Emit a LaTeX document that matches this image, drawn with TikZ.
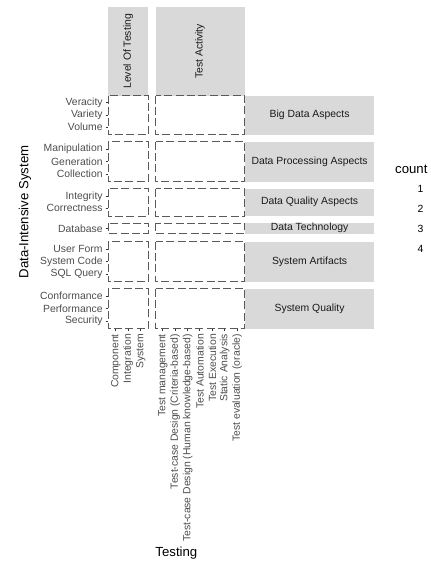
\documentclass[tikz,border=0pt]{standalone}
\usepackage{fontspec}
\setmainfont{Liberation Sans}
\definecolor{stripfill}{HTML}{D9D9D9}
\definecolor{axistext}{HTML}{4D4D4D}
\definecolor{tickcol}{HTML}{333333}
\definecolor{striptextcol}{HTML}{1A1A1A}
\definecolor{bordercol}{HTML}{5A5A5A}
\tikzset{
  stripbox/.style={fill=stripfill, draw=none},
  panelbox/.style={draw=bordercol, line width=1pt, dash pattern=on 8pt off 3.4pt},
  striptext/.style={font=\fontsize{10.4}{12}\selectfont, text=striptextcol, inner sep=0pt},
  yticklab/.style={font=\fontsize{10.4}{12}\selectfont, text=axistext, anchor=east, inner sep=0pt},
  xticklab/.style={font=\fontsize{10.4}{12}\selectfont, text=axistext, anchor=east, rotate=90, inner sep=0pt},
  tickline/.style={draw=tickcol, line width=1pt},
  axtitle/.style={font=\fontsize{13.2}{15}\selectfont, text=black, inner sep=0pt},
  legtext/.style={font=\fontsize{10.4}{12}\selectfont, text=black, anchor=west, inner sep=0pt}
}
\begin{document}
\begin{tikzpicture}[x=1pt,y=-1pt]
\useasboundingbox (0,0) rectangle (431,568);
% top strips
\fill[stripbox] (108.3,7.3) rectangle (148.3,95.5);
\fill[stripbox] (155.5,7.3) rectangle (244.5,95.5);
\node[striptext, rotate=90] (sLevel) at (128.3,51.4) {Level Of Testing};
\node[striptext, rotate=90] (sAct) at (200,51.4) {Test Activity};
% rows: panels and right strips
\foreach \t/\b/\lab [count=\i] in {95.5/134.5/Big Data Aspects, 141.5/181.5/Data Processing Aspects, 188.5/216/Data Quality Aspects, 223/233.5/Data Technology, 241.5/281.5/System Artifacts, 288.5/328.5/System Quality}{
  \fill[stripbox] (245.3,\t) rectangle (374,\b);
  \node[striptext] (r\i) at (309.6,{(\t+\b)/2}) {\lab};
  \draw[panelbox] (108.3,\t) rectangle (148.3,\b);
  \draw[panelbox] (155.5,\t) rectangle (244.5,\b);
}
% y ticks
\foreach \y/\txt [count=\i] in {102.8/Veracity, 115/Variety, 127.2/Volume, 149/Manipulation, 161.5/Generation, 174/Collection, 196.5/Integrity, 208.3/Correctness, 228.3/Database, 249.3/User Form, 261.7/System Code, 274/SQL Query, 296/Conformance, 308.5/Performance, 321/Security}{
  \draw[tickline] (105.5,\y) -- (108.3,\y);
  \node[yticklab] (yl\i) at (102.8,\y) {\txt};
}
% x ticks left column
\foreach \x/\txt [count=\i] in {115.8/Component, 128.3/Integration, 140.8/System}{
  \draw[tickline] (\x,328.5) -- (\x,331.3);
  \node[xticklab] (xa\i) at (\x,334) {\txt};
}
% x ticks right column
\foreach \txt [count=\i] in {Test management, Test-case Design (Criteria-based), Test-case Design (Human knowledge-based), Test Automation, Test Execution, Static Analysis, Test evaluation (oracle)}{
  \pgfmathsetmacro{\xx}{155.5+12.36*(\i-0.4)}
  \draw[tickline] (\xx,328.5) -- (\xx,331.3);
  \node[xticklab] (xb\i) at (\xx,334) {\txt};
}
% axis titles
\node[axtitle, rotate=90] (ytitle) at (25,212) {Data-Intensive System};
\node[axtitle] (xtitle) at (176.4,553) {Testing};
% legend
\node[axtitle, anchor=west] (legtitle) at (395,169) {count};
\foreach \y/\n in {189.3/1, 209.3/2, 229.3/3, 249.3/4}{
  \node[legtext] (leg\n) at (417.3,\y) {\n};
}
\end{tikzpicture}
\end{document}
